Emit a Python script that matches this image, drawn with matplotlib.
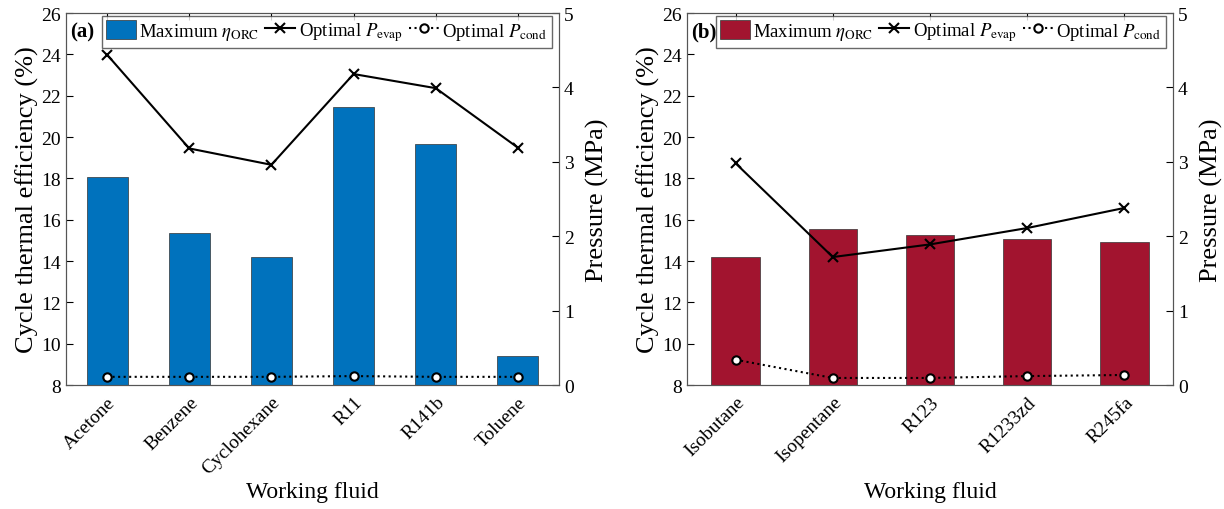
import matplotlib
matplotlib.use("Agg")
import matplotlib.pyplot as plt
import numpy as np

plt.rcParams["font.family"] = ["Liberation Serif", "DejaVu Serif"]
plt.rcParams["mathtext.fontset"] = "stix"

# ---------------------------------------------------------------------------
# Data
# ---------------------------------------------------------------------------
fluids_a = ["Acetone", "Benzene", "Cyclohexane", "R11", "R141b", "Toluene"]
eta_a = [18.05, 15.35, 14.2, 21.45, 19.65, 9.4]
pevap_a = [4.44, 3.18, 2.96, 4.18, 3.99, 3.19]
pcond_a = [0.11, 0.11, 0.11, 0.12, 0.11, 0.11]

fluids_b = ["Isobutane", "Isopentane", "R123", "R1233zd", "R245fa"]
eta_b = [14.2, 15.55, 15.27, 15.08, 14.9]
pevap_b = [2.98, 1.72, 1.89, 2.11, 2.38]
pcond_b = [0.34, 0.095, 0.095, 0.12, 0.135]

BLUE = "#0072BD"
RED = "#A2142F"


def draw_panel(fig, rect, fluids, eta, pevap, pcond, color, tag):
    ax = fig.add_axes(rect)
    x = np.arange(1, len(fluids) + 1)
    bars = ax.bar(x, np.array(eta) - 8, bottom=8, width=0.5, color=color,
                  edgecolor="#333333", linewidth=0.5, zorder=2)
    ax.set_xlim(0.5, len(fluids) + 0.5)
    ax.set_ylim(8, 26)
    ax.set_yticks(np.arange(8, 27, 2))
    ax.set_xticks(x)
    ax.set_xticklabels(fluids, rotation=45, ha="right", rotation_mode="anchor",
                       fontsize=13.5)
    ax.tick_params(axis="both", direction="in", labelsize=14, length=5,
                   top=True, right=False)
    ax.tick_params(axis="x", pad=6)
    ax.set_ylabel("Cycle thermal efficiency (%)", fontsize=19, labelpad=2)
    ax.set_xlabel("Working fluid", fontsize=17)
    ax.xaxis.set_label_coords(0.5, -0.258)
    for s in ax.spines.values():
        s.set_color("#555555")

    ax2 = ax.twinx()
    ax2.set_ylim(0, 5)
    ax2.set_yticks(np.arange(0, 6, 1))
    ax2.tick_params(axis="y", direction="in", labelsize=14, length=5)
    ax2.set_ylabel("Pressure (MPa)", fontsize=19, labelpad=9)
    for s in ax2.spines.values():
        s.set_color("#555555")
    l1, = ax2.plot(x, pevap, "-x", color="black", lw=1.5, ms=6.5, mew=1.5)
    l2, = ax2.plot(x, pcond, ":o", color="black", lw=1.5, ms=6, mew=1.5,
                   mfc="white")

    ax2.legend([bars, l1, l2],
               [r"Maximum $\eta_{\mathrm{ORC}}$",
                r"Optimal $P_{\mathrm{evap}}$",
                r"Optimal $P_{\mathrm{cond}}$"],
               loc="upper right", bbox_to_anchor=(0.985, 0.992), ncol=3,
               fontsize=13.5, frameon=True, fancybox=False,
               edgecolor="#444444", handlelength=1.6, handleheight=1.15,
               handletextpad=0.2, columnspacing=0.3, borderpad=0.22,
               borderaxespad=0.0)
    ax.text(0.009, 0.978, tag, transform=ax.transAxes, fontsize=15,
            fontweight="bold", va="top", ha="left")
    return ax, ax2


fig = plt.figure(figsize=(12.24, 5.1), dpi=100)
draw_panel(fig, [0.0539, 0.2431, 0.4028, 0.7294], fluids_a, eta_a, pevap_a,
           pcond_a, BLUE, "(a)")
draw_panel(fig, [0.5613, 0.2431, 0.3970, 0.7294], fluids_b, eta_b, pevap_b,
           pcond_b, RED, "(b)")

fig.savefig("out.png", dpi=100)
